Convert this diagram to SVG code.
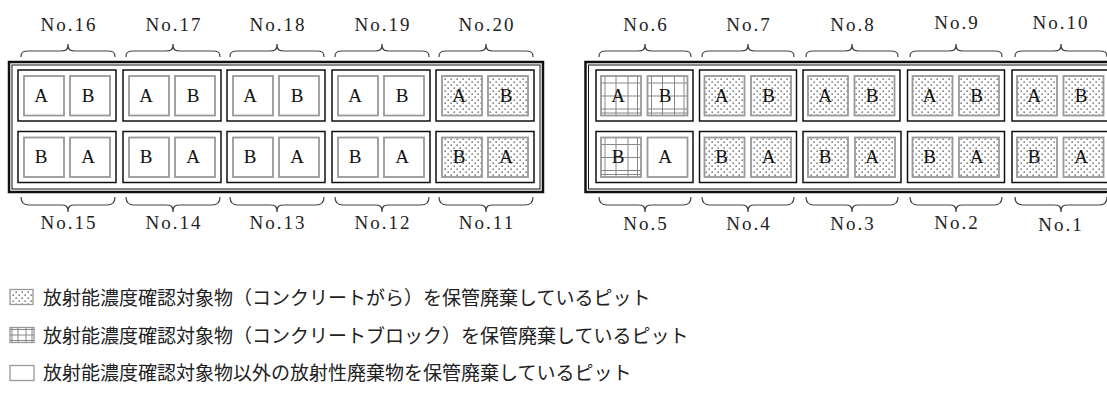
<svg xmlns="http://www.w3.org/2000/svg" width="1107" height="410" viewBox="0 0 1107 410">
<style>
.pit{fill:none;stroke:#111;stroke-width:1.5}
.box{fill:#fff;stroke:#999;stroke-width:1.8}
.dot{fill:url(#dots);stroke:#999;stroke-width:1.8}
.gl{stroke:#888;stroke-width:1;fill:none}
.frT{fill:none;stroke:#111;stroke-width:2.5}
.frt{fill:none;stroke:#111;stroke-width:1}
.br{fill:none;stroke:#444;stroke-width:1.2}
.lbl{font-family:"Liberation Serif",serif;font-size:19px;fill:#222;text-anchor:middle;letter-spacing:2px}
.ab{font-family:"Liberation Serif",serif;font-size:19px;fill:#111;text-anchor:middle}
.lg{font-family:"Noto Sans CJK JP",sans-serif;font-size:19px;fill:#222}
</style>
<defs>
<pattern id="dots" width="6" height="6" patternUnits="userSpaceOnUse">
<rect width="6" height="6" fill="#fff"/>
<rect x="0.5" y="0.5" width="1.3" height="1.3" fill="#444"/>
<rect x="3.5" y="3.5" width="1.3" height="1.3" fill="#444"/>
</pattern>
<g id="grid">
<rect x="0" y="0" width="40" height="39.5" fill="#fff" stroke="#999" stroke-width="1.8"/>
<path class="gl" d="M4,0V39.5M15,0V39.5M27,0V39.5M36.5,0V39.5M0,7H40M0,20H40M0,33H40M0,37H40"/>
</g>
</defs>

<g id="connectors">
<g id="frame-left"><rect class="frT" x="9" y="62" width="534" height="130"/><rect class="frt" x="12" y="65" width="528" height="124"/></g>
<g id="frame-right"><rect class="frT" x="585.5" y="62" width="600" height="130"/><rect class="frt" x="588.5" y="65" width="594" height="124"/></g>
</g>

<g id="braces">
<path class="br" d="M21,57C21,52 23,51 29,51L61,51C66,51 68,50 68,44C68,50 70,51 75,51L107,51C113,51 115,52 115,57"/>
<path class="br" d="M126,57C126,52 128,51 134,51L166,51C171,51 173,50 173,44C173,50 175,51 180,51L212,51C218,51 220,52 220,57"/>
<path class="br" d="M230,57C230,52 232,51 238,51L270,51C275,51 277,50 277,44C277,50 279,51 284,51L316,51C322,51 324,52 324,57"/>
<path class="br" d="M335,57C335,52 337,51 343,51L375,51C380,51 382,50 382,44C382,50 384,51 389,51L421,51C427,51 429,52 429,57"/>
<path class="br" d="M439,57C439,52 441,51 447,51L479,51C484,51 486,50 486,44C486,50 488,51 493,51L525,51C531,51 533,52 533,57"/>
<path class="br" d="M599,57C599,52 601,51 607,51L638,51C643,51 645,50 645,44C645,50 647,51 652,51L683,51C689,51 691,52 691,57"/>
<path class="br" d="M702,57C702,52 704,51 710,51L741,51C746,51 748,50 748,44C748,50 750,51 755,51L786,51C792,51 794,52 794,57"/>
<path class="br" d="M806,57C806,52 808,51 814,51L845,51C850,51 852,50 852,44C852,50 854,51 859,51L890,51C896,51 898,52 898,57"/>
<path class="br" d="M910,57C910,52 912,51 918,51L949,51C954,51 956,50 956,44C956,50 958,51 963,51L994,51C1000,51 1002,52 1002,57"/>
<path class="br" d="M1015,57C1015,52 1017,51 1023,51L1054,51C1059,51 1061,50 1061,44C1061,50 1063,51 1068,51L1099,51C1105,51 1107,52 1107,57"/>
<path class="br" d="M21,197C21,202 23,205 29,205L61,205C66,205 68,206 68,212C68,206 70,205 75,205L107,205C113,205 115,202 115,197"/>
<path class="br" d="M126,197C126,202 128,205 134,205L166,205C171,205 173,206 173,212C173,206 175,205 180,205L212,205C218,205 220,202 220,197"/>
<path class="br" d="M230,197C230,202 232,205 238,205L270,205C275,205 277,206 277,212C277,206 279,205 284,205L316,205C322,205 324,202 324,197"/>
<path class="br" d="M335,197C335,202 337,205 343,205L375,205C380,205 382,206 382,212C382,206 384,205 389,205L421,205C427,205 429,202 429,197"/>
<path class="br" d="M439,197C439,202 441,205 447,205L479,205C484,205 486,206 486,212C486,206 488,205 493,205L525,205C531,205 533,202 533,197"/>
<path class="br" d="M599,197C599,202 601,205 607,205L638,205C643,205 645,206 645,212C645,206 647,205 652,205L683,205C689,205 691,202 691,197"/>
<path class="br" d="M702,197C702,202 704,205 710,205L741,205C746,205 748,206 748,212C748,206 750,205 755,205L786,205C792,205 794,202 794,197"/>
<path class="br" d="M806,197C806,202 808,205 814,205L845,205C850,205 852,206 852,212C852,206 854,205 859,205L890,205C896,205 898,202 898,197"/>
<path class="br" d="M910,197C910,202 912,205 918,205L949,205C954,205 956,206 956,212C956,206 958,205 963,205L994,205C1000,205 1002,202 1002,197"/>
<path class="br" d="M1015,197C1015,202 1017,205 1023,205L1054,205C1059,205 1061,206 1061,212C1061,206 1063,205 1068,205L1099,205C1105,205 1107,202 1107,197"/>
</g>

<!-- Left group top row -->
<g id="pit16"><rect class="pit" x="18" y="70" width="98" height="51"/><rect class="box" x="24" y="76" width="40" height="39.5"/><rect class="box" x="70" y="76" width="40" height="39.5"/><text class="ab" x="41" y="102">A</text><text class="ab" x="88" y="102">B</text><text class="lbl" x="69" y="31">No.16</text></g>
<g id="pit17"><rect class="pit" x="123" y="70" width="98" height="51"/><rect class="box" x="129" y="76" width="40" height="39.5"/><rect class="box" x="175" y="76" width="40" height="39.5"/><text class="ab" x="146" y="102">A</text><text class="ab" x="193" y="102">B</text><text class="lbl" x="174" y="31">No.17</text></g>
<g id="pit18"><rect class="pit" x="227" y="70" width="98" height="51"/><rect class="box" x="233" y="76" width="40" height="39.5"/><rect class="box" x="279" y="76" width="40" height="39.5"/><text class="ab" x="250" y="102">A</text><text class="ab" x="297" y="102">B</text><text class="lbl" x="278" y="31">No.18</text></g>
<g id="pit19"><rect class="pit" x="332" y="70" width="98" height="51"/><rect class="box" x="338" y="76" width="40" height="39.5"/><rect class="box" x="384" y="76" width="40" height="39.5"/><text class="ab" x="355" y="102">A</text><text class="ab" x="402" y="102">B</text><text class="lbl" x="383" y="31">No.19</text></g>
<g id="pit20"><rect class="pit" x="436" y="70" width="98" height="51"/><rect class="dot" x="442" y="76" width="40" height="39.5"/><rect class="dot" x="488" y="76" width="40" height="39.5"/><text class="ab" x="459" y="102">A</text><text class="ab" x="506" y="102">B</text><text class="lbl" x="487" y="31">No.20</text></g>
<!-- Left group bottom row -->
<g id="pit15"><rect class="pit" x="18" y="131.5" width="98" height="51"/><rect class="box" x="24" y="137.5" width="40" height="39.5"/><rect class="box" x="70" y="137.5" width="40" height="39.5"/><text class="ab" x="41" y="163">B</text><text class="ab" x="88" y="163">A</text><text class="lbl" x="69" y="229">No.15</text></g>
<g id="pit14"><rect class="pit" x="123" y="131.5" width="98" height="51"/><rect class="box" x="129" y="137.5" width="40" height="39.5"/><rect class="box" x="175" y="137.5" width="40" height="39.5"/><text class="ab" x="146" y="163">B</text><text class="ab" x="193" y="163">A</text><text class="lbl" x="174" y="229">No.14</text></g>
<g id="pit13"><rect class="pit" x="227" y="131.5" width="98" height="51"/><rect class="box" x="233" y="137.5" width="40" height="39.5"/><rect class="box" x="279" y="137.5" width="40" height="39.5"/><text class="ab" x="250" y="163">B</text><text class="ab" x="297" y="163">A</text><text class="lbl" x="278" y="229">No.13</text></g>
<g id="pit12"><rect class="pit" x="332" y="131.5" width="98" height="51"/><rect class="box" x="338" y="137.5" width="40" height="39.5"/><rect class="box" x="384" y="137.5" width="40" height="39.5"/><text class="ab" x="355" y="163">B</text><text class="ab" x="402" y="163">A</text><text class="lbl" x="383" y="229">No.12</text></g>
<g id="pit11"><rect class="pit" x="436" y="131.5" width="98" height="51"/><rect class="dot" x="442" y="137.5" width="40" height="39.5"/><rect class="dot" x="488" y="137.5" width="40" height="39.5"/><text class="ab" x="459" y="163">B</text><text class="ab" x="506" y="163">A</text><text class="lbl" x="487" y="229">No.11</text></g>

<!-- Right group top row -->
<g id="pit6"><rect class="pit" x="596" y="70" width="97" height="51"/><use href="#grid" x="601" y="76"/><use href="#grid" x="647.5" y="76"/><text class="ab" x="618" y="102">A</text><text class="ab" x="665" y="102">B</text><text class="lbl" x="646" y="31">No.6</text></g>
<g id="pit7"><rect class="pit" x="699.5" y="70" width="97" height="51"/><rect class="dot" x="704.5" y="76" width="40" height="39.5"/><rect class="dot" x="751" y="76" width="40" height="39.5"/><text class="ab" x="721.5" y="102">A</text><text class="ab" x="768.5" y="102">B</text><text class="lbl" x="749" y="31">No.7</text></g>
<g id="pit8"><rect class="pit" x="803" y="70" width="97" height="51"/><rect class="dot" x="808" y="76" width="40" height="39.5"/><rect class="dot" x="854.5" y="76" width="40" height="39.5"/><text class="ab" x="825" y="102">A</text><text class="ab" x="872" y="102">B</text><text class="lbl" x="853" y="31">No.8</text></g>
<g id="pit9"><rect class="pit" x="907.5" y="70" width="97" height="51"/><rect class="dot" x="912.5" y="76" width="40" height="39.5"/><rect class="dot" x="959" y="76" width="40" height="39.5"/><text class="ab" x="929.5" y="102">A</text><text class="ab" x="976.5" y="102">B</text><text class="lbl" x="957" y="29">No.9</text></g>
<g id="pit10"><rect class="pit" x="1012" y="70" width="97" height="51"/><rect class="dot" x="1017" y="76" width="40" height="39.5"/><rect class="dot" x="1063.5" y="76" width="40" height="39.5"/><text class="ab" x="1034" y="102">A</text><text class="ab" x="1081" y="102">B</text><text class="lbl" x="1061" y="29">No.10</text></g>
<!-- Right group bottom row -->
<g id="pit5"><rect class="pit" x="596" y="131.5" width="97" height="51"/><use href="#grid" x="601" y="137.5"/><rect class="box" x="647.5" y="137.5" width="40" height="39.5"/><text class="ab" x="618" y="163">B</text><text class="ab" x="665" y="163">A</text><text class="lbl" x="646" y="230">No.5</text></g>
<g id="pit4"><rect class="pit" x="699.5" y="131.5" width="97" height="51"/><rect class="dot" x="704.5" y="137.5" width="40" height="39.5"/><rect class="dot" x="751" y="137.5" width="40" height="39.5"/><text class="ab" x="721.5" y="163">B</text><text class="ab" x="768.5" y="163">A</text><text class="lbl" x="749" y="230">No.4</text></g>
<g id="pit3"><rect class="pit" x="803" y="131.5" width="98" height="51"/><rect class="dot" x="808" y="137.5" width="40" height="39.5"/><rect class="dot" x="855" y="137.5" width="40" height="39.5"/><text class="ab" x="825" y="163">B</text><text class="ab" x="872" y="163">A</text><text class="lbl" x="853" y="230">No.3</text></g>
<g id="pit2"><rect class="pit" x="907.5" y="131.5" width="97" height="51"/><rect class="dot" x="912.5" y="137.5" width="40" height="39.5"/><rect class="dot" x="959" y="137.5" width="40" height="39.5"/><text class="ab" x="929.5" y="163">B</text><text class="ab" x="976.5" y="163">A</text><text class="lbl" x="957" y="229">No.2</text></g>
<g id="pit1"><rect class="pit" x="1012" y="131.5" width="97" height="51"/><rect class="dot" x="1017" y="137.5" width="40" height="39.5"/><rect class="dot" x="1063.5" y="137.5" width="40" height="39.5"/><text class="ab" x="1034" y="163">B</text><text class="ab" x="1081" y="163">A</text><text class="lbl" x="1061" y="231">No.1</text></g>

<!-- Legend -->
<g id="legend-dots"><rect x="10" y="289.5" width="23" height="15" fill="url(#dots)" stroke="#999" stroke-width="1.3"/><text class="lg" x="43" y="305">放射能濃度確認対象物（コンクリートがら）を保管廃棄しているピット</text></g>
<g id="legend-grid"><rect x="10" y="327.5" width="24" height="15" fill="#fff" stroke="#999" stroke-width="1.3"/><path class="gl" d="M12,327.5V342.5M18,327.5V342.5M26,327.5V342.5M32,327.5V342.5M10,329.5H34M10,335H34M10,340.5H34"/><text class="lg" x="43" y="343">放射能濃度確認対象物（コンクリートブロック）を保管廃棄しているピット</text></g>
<g id="legend-plain"><rect x="10" y="365.5" width="24" height="15" fill="#fff" stroke="#999" stroke-width="1.3"/><text class="lg" x="43" y="380">放射能濃度確認対象物以外の放射性廃棄物を保管廃棄しているピット</text></g>
</svg>
